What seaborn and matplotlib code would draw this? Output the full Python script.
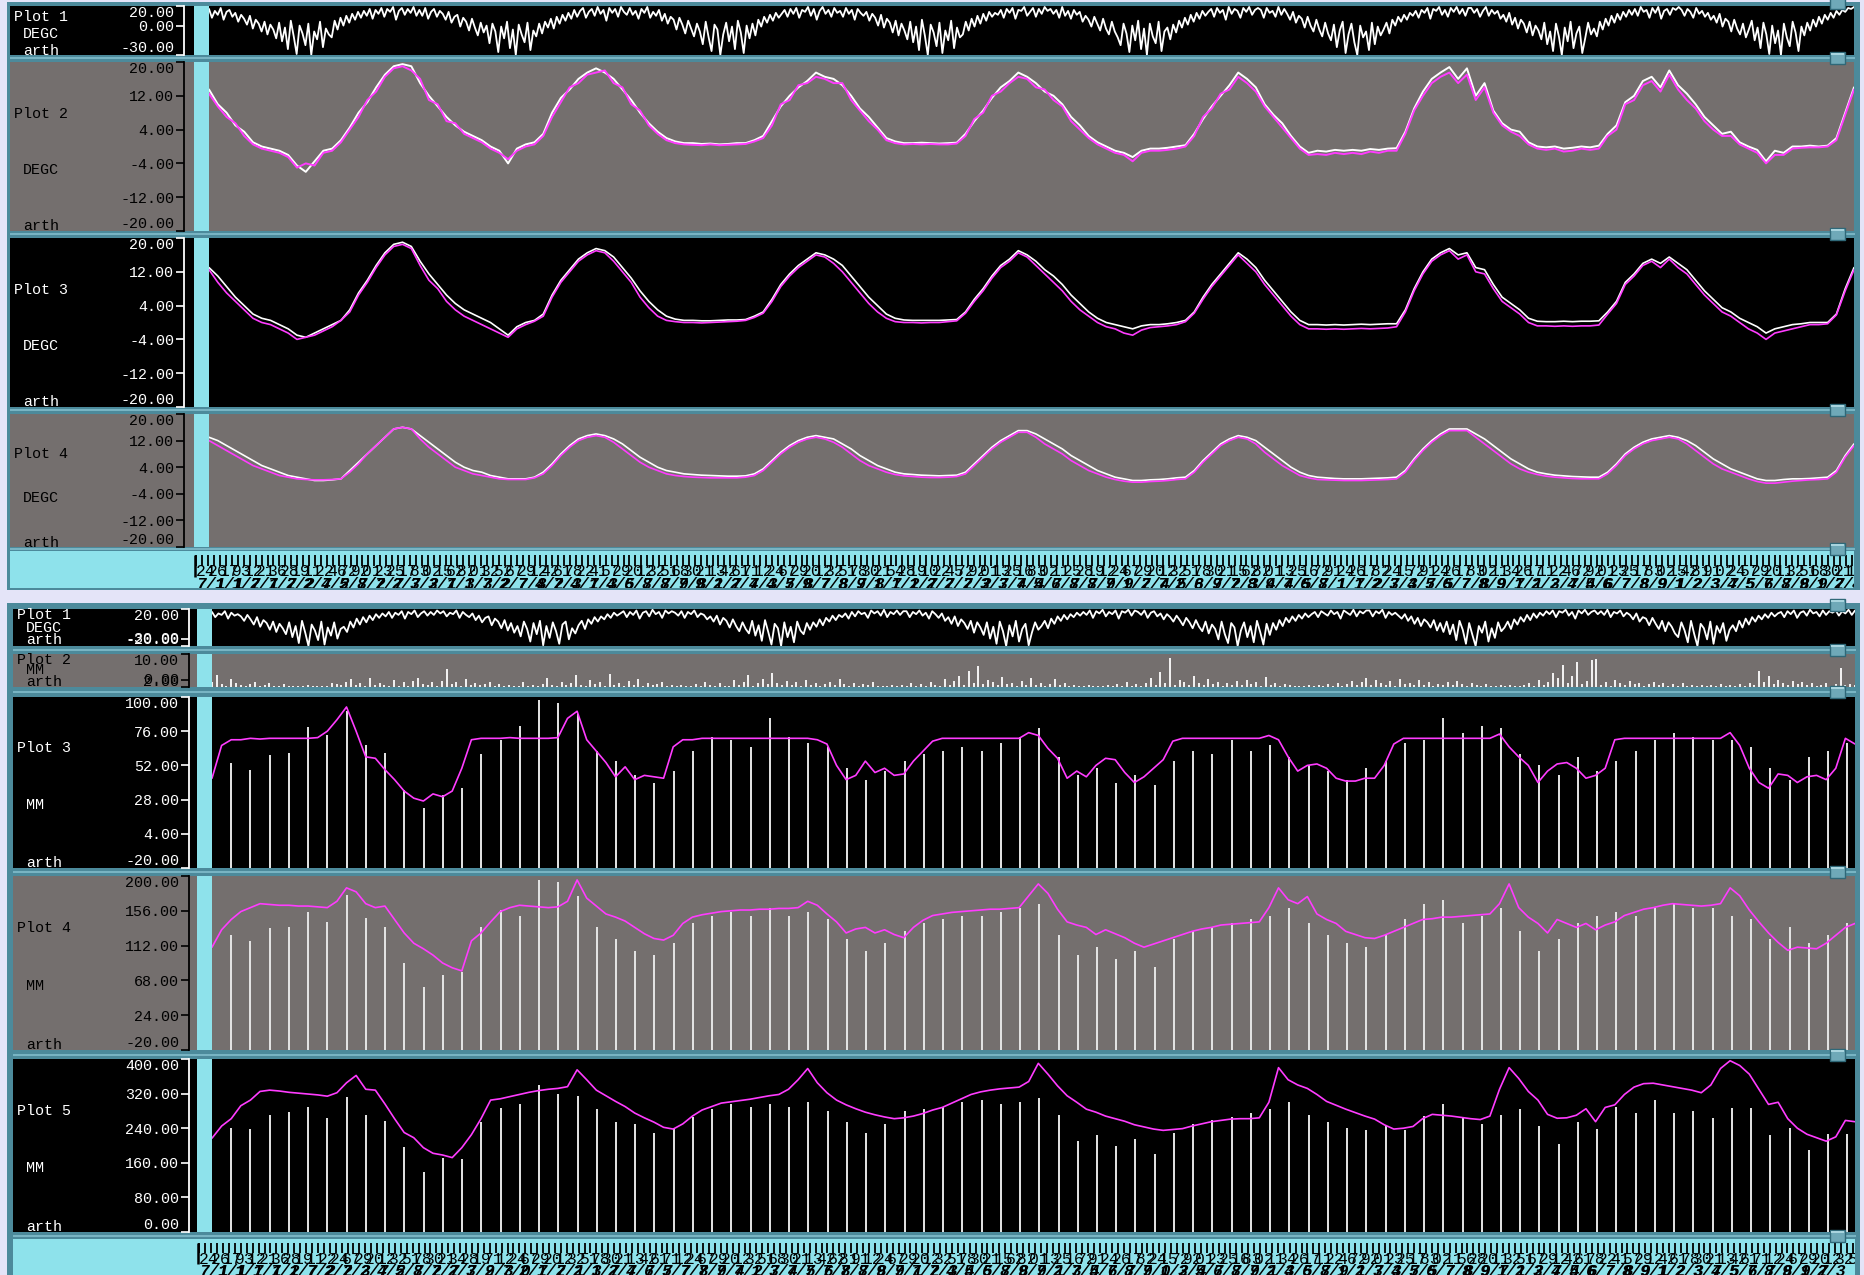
import numpy as np
import matplotlib
matplotlib.use("Agg")
import matplotlib.pyplot as plt
from matplotlib.patches import Rectangle
import seaborn as sns

# ---------------------------------------------------------------- data
# upper station: soil temperatures on a half-month grid, air temperature on a 5-day grid
top_months = 93.8
top_air = [
    17, 8, 15, 11, 18, 6, 14, 16, 9,
    13, 4, 11, 7, 1, 10, -3, 6, 2, -6, 4, -9, 1, -4, -13,
    3, -16, -2, -24, 5, -11, -29, 0, -8, -20, 2, -30, -6, -14, 4, -22, -3, -9,
    -12, 5, -4, 8, 0, 10, 3, 12, 6, 14, 8, 15, 10, 17,
    7, 16, 12, 18, 9, 17, 14, 19, 6, 15, 18, 11, 17, 13, 19, 10,
    16, 10, 18, 7, 14, 17, 9, 15, 12,
    6, 14, 3, 9, 11, -1, 8, 4, -5, 7, -2, -10, 3, -7, 0,
    -18, 2, -6, -27, -1, -13, 4, -23, -4, -30, 1, -9, -17, 3, -25, -5, -11, 2,
    -8, 4, -2, 7, -3, 9, 2, 11, 5, 13, 7, 16, 9, 15,
    18, 8, 14, 17, 10, 19, 12, 16, 5, 18, 13, 17, 9, 19, 14, 11,
    18, 11, 15, 7, 17, 13, 19, 8, 14,
    10, 16, 5, 12, 2, 9, 6, -4, 8, 1, -8, 5, -3, -11, 2,
    -6, -19, 4, -12, -26, 1, -4, -30, -9, 3, -16, -1, -24, 5, -7, -28, 0, -13,
    2, -10, 6, -1, 9, 3, 11, 5, 13, 8, 12, 16, 9, 17,
    12, 18, 8, 16, 14, 19, 10, 17, 6, 15, 19, 12, 16, 9, 18, 13,
    15, 9, 18, 12, 16, 6, 17, 13, 10,
    14, 5, 12, 8, 0, 11, -2, 7, 3, -7, 5, -10, 2, -5, -14,
    4, -17, -1, -25, 6, -10, -30, 1, -7, -21, 3, -28, -5, -15, 5, -23, -2, -12,
    -9, 4, -5, 7, -1, 10, 2, 12, 5, 14, 9, 13, 11, 16,
    8, 17, 13, 18, 7, 16, 15, 19, 10, 14, 18, 9, 17, 12, 19, 15,
    17, 12, 16, 8, 19, 10, 15, 7, 16,
    11, 14, 4, 10, 6, -1, 9, 2, -5, 7, -3, -9, 4, -6, -12,
    -20, 2, -8, -27, 0, -15, 5, -24, -3, -30, 2, -11, -18, 4, -26, -6, -2, -14,
    1, -7, 5, -2, 8, 1, 11, 4, 13, 7, 15, 10, 14, 17,
    9, 18, 13, 16, 6, 19, 12, 17, 15, 8, 18, 14, 19, 11, 16, 18,
    16, 8, 18, 13, 15, 9, 19, 11, 17,
    12, 6, 14, 3, 10, 7, -2, 9, 0, -6, 6, -4, -11, 3, -8,
    -15, 1, -22, -5, 4, -28, -9, 2, -17, -30, 0, -12, -6, -25, 3, -19, -1, -10,
    -4, 3, -8, 6, 0, 9, 4, 11, 6, 13, 10, 15, 8, 16,
    13, 18, 7, 17, 15, 19, 11, 16, 9, 18, 14, 19, 12, 17, 10, 18,
    18, 13, 17, 9, 15, 19, 10, 16, 12,
    15, 7, 11, 4, 13, 1, 8, -3, 6, 2, -7, 4, -10, 0, -5,
    -14, 3, -19, -6, -26, 2, -11, -30, -2, -16, 4, -23, -8, -1, -28, -13, 3, -9,
    -3, -11, 4, -4, 7, 0, 10, 3, 12, 6, 14, 9, 16, 11,
    17, 10, 19, 14, 16, 8, 18, 13, 19, 7, 15, 17, 11, 18, 16, 19,
    16, 10, 17, 14, 8, 18, 12, 15, 9,
    13, 6, 10, 3, 12, -1, 7, 4, -6, 6, -3, -9, 2, -12, -4,
    5, -15, -2, -23, 3, -9, -29, 0, -18, -5, -30, 2, -12, -21, 4, -7, -26, -1,
    -10, 3, -5, 6, -1, 9, 2, 11, 6, 13, 8, 15, 11, 16,
    14, 18, 17, 19,
]
top_soil1_a = [
    13.5, 10, 8, 5, 3.5, 1, 0, -0.5, -1, -2, -4.5, -6, -3.5, -1, -0.5, 1.5, 4.5, 8, 10.5, 14, 17, 19, 19.5, 19, 15, 12, 9.5, 7, 5, 3.5,
    2.5, 1.5, 0, -1, -4, -0.5, 0.5, 1, 3, 8, 11.5, 13.5, 16, 17.5, 18.5, 17.5, 16, 13.5, 11, 8, 5.5, 3.5, 2, 1.2, 0.8, 0.8, 0.6, 0.7, 0.5, 0.6,
    0.8, 0.8, 1.5, 2.5, 6, 9.5, 12, 14, 15.5, 17.5, 16.5, 16, 14.5, 12, 9, 7, 4.5, 2, 1.2, 0.8, 0.8, 0.9, 0.8, 0.7, 0.8, 0.9, 3, 6, 8.5, 11.5,
    14, 15.5, 17.5, 16.5, 15, 13, 12, 10, 7, 5, 2.5, 1, 0, -1, -1.5, -2.5, -1, -0.5, -0.5, -0.3, 0, 0.3, 3, 6.5, 9.5, 12, 14.5, 17.5, 16, 14,
    10, 7.5, 5.5, 2.5, 0, -1.5, -1, -1.2, -0.8, -1, -0.8, -1, -0.6, -0.8, -0.5, -0.4, 3.5, 9, 13, 16, 17.5, 18.8, 16, 18.5, 12, 15, 8.5, 5.5, 4, 3.5,
    1, 0, -0.2, 0, -0.5, -0.3, 0, -0.2, 0.2, 3, 5, 10.5, 12, 15.5, 16.5, 14, 18, 14.5, 12.5, 10, 7, 5, 3, 3.5, 1, 0, -0.8, -3.5, -1, -1.5,
    0, 0, 0.2, 0, 0.2, 2, 8, 14,
]
top_soil1_b = [
    12.5, 9.5, 7, 5.5, 2.5, 0.5, -0.5, -1, -1.5, -2.5, -5, -4, -4.5, -1.5, -1, 1, 4, 7, 11, 13, 16.5, 18.5, 19, 18, 16, 11, 10, 6, 5.5, 3,
    2, 1, -0.5, -1.5, -3, -1, 0, 0.5, 2.5, 7, 10.5, 14, 15, 17, 17.5, 18, 15, 14, 10, 8.5, 5, 3, 1.5, 0.8, 0.5, 0.4, 0.3, 0.5, 0.3, 0.4,
    0.5, 0.6, 1.2, 2, 5, 10, 11, 14.5, 15, 16.5, 16, 15, 15, 11, 8.5, 6, 4, 1.5, 0.8, 0.5, 0.6, 0.5, 0.6, 0.5, 0.5, 0.7, 2.5, 6.5, 8, 12,
    13, 15, 16.5, 16, 14, 13.5, 11, 9.5, 6, 4, 2, 0.5, -0.5, -1.5, -2, -3.5, -1.5, -1, -1, -0.8, -0.5, 0, 2.5, 7, 9, 12.5, 13.5, 16.5, 15, 13,
    9.5, 7, 4.5, 2, -0.5, -2, -1.8, -2, -1.5, -1.8, -1.5, -1.8, -1.2, -1.5, -1, -1, 3, 8.5, 12, 15, 16.5, 17.5, 15, 17, 11, 14, 8, 5, 3.5, 2.5,
    0.5, -0.5, -0.8, -0.5, -1.2, -1, -0.5, -0.8, -0.5, 2.5, 4, 10, 11, 14.5, 15.5, 13, 17, 13.5, 11, 9, 6, 4, 2.5, 2.5, 0.5, -0.5, -1.5, -4, -2, -2,
    -0.5, -0.3, -0.2, -0.2, 0, 1.5, 7.5, 13.5,
]
top_soil2_a = [
    13, 11, 8.5, 6, 4, 2, 1, 0.5, -0.5, -1.5, -3, -3.5, -2.5, -1.5, -0.5, 0.5, 3, 7, 10, 13.5, 16.5, 18.5, 19, 18, 14.5, 11.5, 9, 6.5, 4.5, 3,
    2, 1, 0, -1.5, -3, -1, 0, 0.5, 2, 6.5, 10, 12.5, 15, 16.5, 17.5, 17, 15.5, 13, 10.5, 7.5, 5, 3, 1.5, 0.8, 0.5, 0.5, 0.4, 0.4, 0.5, 0.6,
    0.6, 0.7, 1.5, 2.5, 5.5, 9, 11.5, 13.5, 15, 16.5, 16, 15, 13.5, 11, 8.5, 6, 4, 2, 1, 0.6, 0.5, 0.5, 0.5, 0.5, 0.6, 0.7, 2.5, 5.5, 8, 11,
    13.5, 15, 17, 16, 14.5, 12.5, 11, 9, 6.5, 4.5, 2.5, 1, 0, -0.5, -1, -1.5, -0.8, -0.5, -0.5, -0.3, 0, 0.5, 2.5, 6, 9, 11.5, 14, 16.5, 15, 13,
    10, 7.5, 5, 2.5, 0.5, -0.5, -0.5, -0.6, -0.5, -0.6, -0.5, -0.4, -0.5, -0.4, -0.3, -0.3, 3, 8, 12, 15, 16.5, 17.5, 16, 16.5, 13, 12.5, 9, 6, 4.5, 3,
    1, 0.3, 0.2, 0.2, 0.3, 0.2, 0.3, 0.3, 0.4, 2.5, 5, 9.5, 11.5, 14, 15, 14, 15.5, 14, 12.5, 10, 7.5, 5.5, 3.5, 2.5, 1, 0, -1, -2.5, -1.5, -1,
    -0.5, -0.3, 0, 0, 0, 2, 8, 13,
]
top_soil2_b = [
    12.5, 9.5, 7, 5, 3, 1, 0, -0.5, -1.5, -2.5, -4, -3.5, -3, -2, -1, 0.5, 2.5, 6.5, 9.5, 13, 16, 18, 18.5, 17.5, 13.5, 10, 8, 5, 3, 1.5,
    0.5, -0.5, -1.5, -2.5, -3.5, -1.5, -0.5, 0.3, 1.5, 6, 9.5, 12, 14.5, 16, 17, 16.5, 14.5, 12, 9.5, 6, 3.5, 1.5, 0.5, 0.2, 0, 0, -0.1, 0, 0.1, 0.2,
    0.3, 0.5, 1.2, 2.2, 5, 8.5, 11, 13, 14.5, 16, 15.5, 14, 12, 9.5, 7, 4.5, 2.5, 1, 0.2, 0, 0, -0.1, 0, 0, 0.2, 0.4, 2.2, 5, 7.5, 10.5,
    13, 14.5, 16.5, 15.5, 13.5, 11.5, 9.5, 7.5, 5, 3, 1.5, 0, -1, -1.5, -2.5, -3, -1.8, -1.2, -1, -0.8, -0.5, 0.2, 2.2, 5.5, 8.5, 11, 13.5, 16, 14, 12,
    9, 6.5, 4, 1.5, -0.5, -1.5, -1.5, -1.6, -1.5, -1.6, -1.5, -1.4, -1.5, -1.4, -1.3, -1, 2.5, 7.5, 11.5, 14.5, 16, 17, 15, 16, 12, 11.5, 8, 5, 3.5, 2,
    0, -0.8, -0.8, -0.9, -0.8, -0.9, -0.8, -0.8, -0.6, 2, 4.5, 9, 11, 13.5, 14.5, 13, 15, 13, 11.5, 9, 6.5, 4.5, 2.5, 1.5, 0, -1.5, -2.5, -4, -2.5, -2,
    -1.5, -1, -0.5, -0.5, -0.3, 1.8, 7.5, 12.5,
]
top_soil3_a = [
    13, 12, 10.5, 9, 7.5, 6, 4.5, 3.5, 2.5, 1.5, 1, 0.5, 0, 0, 0.2, 0.5, 3, 5.5, 8, 10.5, 13, 15.5, 16, 15.5, 13.5, 11.5, 9.5, 7.5, 5.5, 4,
    3, 2.5, 1.5, 1, 0.5, 0.5, 0.5, 1, 2.5, 5, 8, 10.5, 12.5, 13.5, 14, 13.5, 12.5, 11, 9, 7, 5.5, 4, 3, 2.5, 2, 1.8, 1.6, 1.5, 1.4, 1.3,
    1.3, 1.4, 2, 3.5, 6, 8.5, 10.5, 12, 13, 13.5, 13, 12.5, 11, 9.5, 7.5, 6, 4.5, 3.5, 2.5, 2, 1.8, 1.6, 1.5, 1.4, 1.5, 1.6, 2.5, 5, 7.5, 10,
    12, 13.5, 15, 15, 14, 12.5, 11, 9.5, 7.5, 6, 4.5, 3, 2, 1, 0.5, 0, 0, 0.2, 0.3, 0.5, 0.8, 1, 3, 6, 8.5, 11, 12.5, 13.5, 13, 12,
    10, 8, 6, 4, 2.5, 1.5, 1, 0.8, 0.6, 0.5, 0.5, 0.5, 0.6, 0.7, 0.8, 1, 3, 6.5, 9.5, 12, 14, 15.5, 15.5, 15.5, 14, 12.5, 10.5, 8.5, 6.5, 5,
    3.5, 2.5, 2, 1.6, 1.4, 1.2, 1.1, 1, 1, 2.5, 5, 8, 10, 11.5, 12.5, 13, 13.5, 13, 12, 10.5, 8.5, 6.5, 5, 3.5, 2.5, 1.5, 0.5, 0, 0, 0.3,
    0.5, 0.5, 0.6, 0.8, 1, 3, 7.5, 11,
]
top_soil3_b = [
    12, 10.5, 9, 7.5, 6, 4.5, 3.5, 2.5, 1.5, 1, 0.5, 0.3, 0.2, 0.2, 0.3, 0.5, 2.5, 5, 8, 10.5, 13, 15.5, 16, 15.5, 12.5, 10, 8, 6, 4, 3,
    2, 1.5, 1, 0.5, 0.3, 0.3, 0.3, 0.8, 2, 4.5, 7.5, 10, 12, 13, 13.5, 13, 11.5, 9.5, 7.5, 5.5, 4, 3, 2, 1.5, 1.2, 1, 0.9, 0.8, 0.8, 0.8,
    0.8, 1, 1.5, 3, 5.5, 8, 10, 11.5, 12.5, 13, 12.5, 11.5, 10, 8, 6, 4.5, 3.5, 2.5, 1.8, 1.4, 1.2, 1, 0.9, 0.9, 1, 1.2, 2, 4.5, 7, 9.5,
    11.5, 13, 14.5, 14.5, 13, 11, 9.5, 8, 6, 4.5, 3, 2, 1, 0.3, -0.2, -0.5, -0.5, -0.3, -0.2, 0, 0.3, 0.5, 2.5, 5.5, 8, 10.5, 12, 13, 12.5, 11,
    8.5, 6.5, 4.5, 3, 1.5, 0.8, 0.3, 0.2, 0.1, 0, 0, 0, 0.1, 0.2, 0.3, 0.5, 2.5, 6, 9, 11.5, 13.5, 15, 15, 15, 13, 11, 9, 7, 5, 3.5,
    2.5, 1.8, 1.3, 1, 0.8, 0.6, 0.5, 0.5, 0.5, 2, 4.5, 7.5, 9.5, 11, 12, 12.5, 13, 12.5, 11, 9, 7, 5, 3.5, 2.5, 1.5, 0.5, -0.3, -0.8, -0.8, -0.5,
    -0.2, 0, 0.2, 0.3, 0.5, 2.5, 7, 10.5,
]

# lower station: storage on a half-month grid, monthly totals, 5-day air temperature, quarter-month rain
bot_months = 85.4
bot_air = [
    16, 9, 14, 12, 17, 7, 15, 11, 13,
    10, 4, 12, 6, -1, 9, -4, 5, 1, -8, 3, -11, 0, -6, -14,
    2, -18, -3, -26, 4, -12, -30, -1, -9, -22, 3, -28, -5, -16, 2, -20, -7, -4,
    -11, 3, -5, 7, -1, 9, 2, 11, 5, 13, 8, 14, 10, 16,
    8, 15, 12, 17, 7, 16, 13, 18, 9, 14, 17, 11, 16, 12, 18, 14,
    17, 10, 15, 13, 18, 8, 16, 12, 9,
    14, 5, 11, 2, 8, 10, -2, 7, 3, -6, 5, -9, 1, -12, -3,
    -17, 3, -7, -24, 1, -14, 4, -29, -3, -19, 2, -10, -27, -1, 3, -21, -6, -13,
    -2, 4, -7, 6, 0, 9, 3, 10, 6, 13, 8, 15, 11, 14,
    17, 9, 16, 12, 18, 7, 15, 17, 10, 19, 13, 16, 8, 18, 14, 17,
    15, 11, 17, 8, 16, 13, 18, 9, 14,
    12, 6, 10, 3, 11, -1, 8, 4, -5, 6, -3, -10, 2, -7, -13,
    4, -16, -2, -23, 5, -11, -28, 0, -6, -30, 2, -18, -4, -25, 3, -9, -14, 1,
    -8, 2, -4, 6, -2, 8, 3, 11, 5, 12, 9, 14, 7, 16,
    10, 17, 13, 15, 8, 18, 14, 17, 11, 19, 9, 16, 13, 18, 12, 17,
    17, 9, 16, 13, 18, 11, 15, 7, 17,
    13, 8, 14, 4, 9, 0, 10, -3, 6, 1, -7, 4, -12, 2, -5,
    -15, 2, -20, -4, -27, 3, -10, -30, -2, -17, 4, -24, -7, 0, -29, -12, 2, -8,
    -3, 4, -6, 7, 0, 10, 4, 12, 6, 13, 9, 15, 11, 16,
    12, 18, 8, 17, 14, 19, 10, 16, 13, 18, 7, 17, 15, 19, 11, 18,
    16, 12, 18, 8, 15, 17, 10, 14, 6,
    13, 9, 3, 11, 5, -2, 8, 2, -6, 5, -4, -10, 3, -13, -1,
    -7, -21, 3, -14, -26, 1, -5, -30, -9, 2, -18, -3, -25, 4, -11, -28, 0, -15,
    1, -8, 5, -3, 8, 2, 10, 4, 12, 7, 14, 9, 13, 16,
    9, 17, 14, 11, 18, 13, 16, 7, 18, 15, 12, 19, 10, 17, 14, 18,
    18, 10, 17, 14, 19, 8, 16, 12, 15,
    11, 7, 13, 4, 10, 0, 8, -3, 6, 2, -5, 5, -9, 1, -11,
    3, -14, -1, -22, 4, -8, -27, 1, -15, -30, -3, -12, 3, -24, -6, -19, 2, -10,
    -5, 3, -7, 6, -1, 9, 3, 12, 5, 14, 8, 15, 11, 17,
    13, 18, 9, 17, 15, 19, 11, 16, 7, 18, 14, 19, 12, 16, 18, 13,
    17, 12, 19, 9, 16, 14, 18, 10, 15,
    12, 6, 14, 3, 9, 7, -2, 8, 0, -7, 4, -10, 2, -4, -13,
    -18, 2, -9, -25, 4, -14, -30, 0, -6, -21, 3, -27, -3, -12, 1, -23, -8, -2,
    -10, 4, -5, 7, -1, 9, 3, 11, 6, 13, 8, 15, 10, 14,
    16, 9, 17, 13, 18, 8, 15, 17, 11, 19, 14, 16, 10, 18, 12, 17,
    15, 18, 11, 17, 14, 19, 12, 18,
]
bot_rain = [
    1.5, 3.5, 0.8, 0.2, 2.5, 1.2, 0.5, 0.3, 0.8, 1.5, 0.4, 0.6, 1.2, 0.3, 0.2, 0.8, 0.4, 0.3, 0.2, 0.3, 0.5, 0.2, 0.3, 0.2, 0.4, 1.2, 0.8, 0.5, 1.5, 2.5, 0.6, 1.2, 0.3, 2.8, 0.5, 1.1, 0.6, 0.2, 2.2, 0.4, 1.5, 0.3, 1.8,
    2.8, 0.9, 0.6, 1.4, 0.3, 1.8, 5.5, 0.8, 1.5, 0.4, 2.5, 0.7, 1.2, 0.5, 0.9, 1.6, 0.4, 0.8, 0.3, 0.6, 0.2, 0.4, 1.5, 0.3, 0.5, 0.2, 0.8, 2.8, 0.6, 0.3, 1.6, 0.5, 1.2, 3.5, 0.7, 0.4, 2.2, 0.9, 1.4, 0.3, 3.8, 0.6, 1.1,
    0.4, 1.8, 0.6, 2.4, 0.3, 1.1, 0.5, 0.8, 1.4, 0.3, 0.6, 0.2, 0.5, 0.3, 0.2, 0.8, 0.4, 1.6, 0.5, 0.3, 1.2, 0.2, 0.4, 2.2, 0.6, 1.5, 3.5, 0.4, 1.3, 2.5, 0.8, 4.2, 1.1, 0.5, 1.9, 0.6, 1.4, 0.3, 2.1, 0.7, 1.2, 0.4, 0.9,
    1.6, 0.5, 2.3, 0.8, 0.4, 1.2, 0.3, 0.9, 0.5, 1.5, 0.2, 0.4, 0.3, 0.5, 0.2, 0.6, 0.3, 1.1, 0.4, 0.8, 0.3, 1.4, 0.6, 0.3, 2.4, 0.5, 1.8, 3.2, 0.7, 4.8, 1.2, 6.5, 0.9, 2.1, 1.5, 0.6, 3.1, 0.8, 1.3, 0.4, 1.7, 0.5, 2.6,
    0.6, 1.3, 0.4, 0.9, 2.4, 0.5, 1.1, 0.3, 0.7, 0.4, 0.2, 0.5, 0.3, 0.2, 0.4, 0.6, 0.3, 0.8, 0.2, 1.5, 0.4, 0.9, 0.3, 1.3, 2.8, 0.6, 4.5, 1.2, 8.8, 0.7, 2.2, 1.6, 0.5, 3.4, 1.1, 0.6, 2.5, 0.8, 1.6, 0.4, 1.2, 0.6, 1.9,
    0.5, 2.2, 0.8, 1.4, 0.4, 3.1, 0.6, 1.2, 0.3, 0.8, 0.5, 0.2, 0.4, 0.3, 0.6, 0.2, 0.5, 0.3, 0.8, 0.4, 1.2, 0.3, 0.9, 1.8, 0.5, 1.5, 2.6, 0.7, 2.0, 1.1, 0.6, 1.7, 0.4, 2.3, 0.9, 1.3, 0.5, 2.0, 0.7, 1.5, 0.3, 1.0, 0.6,
    1.4, 0.5, 1.9, 0.8, 0.4, 1.1, 0.6, 0.3, 0.8, 0.4, 0.2, 0.5, 0.3, 0.7, 0.2, 0.4, 0.6, 1.1, 0.3, 2.2, 0.5, 1.4, 4.2, 2.6, 6.8, 1.2, 3.4, 7.5, 0.8, 1.9, 8.2, 8.6, 0.6, 1.5, 0.4, 2.1, 1.2, 0.5, 1.7, 0.9, 1.3, 0.4, 0.8,
    1.6, 0.5, 1.1, 0.3, 0.8, 0.4, 1.2, 0.3, 0.6, 0.2, 0.5, 0.3, 0.7, 0.4, 0.9, 0.2, 0.6, 0.3, 0.8, 0.4, 1.3, 0.5, 4.8, 1.5, 3.2, 0.8, 2.1, 1.2, 0.6, 1.8, 0.9, 1.4, 0.5, 1.1, 0.3, 0.7, 1.2, 0.4, 0.8, 5.8, 0.6, 1.0, 0.5,
]
bot_store3 = [
    43, 66, 70, 70, 71, 70.5, 71, 71, 71, 71, 71, 71.5, 76, 84, 93, 76, 58, 57, 49, 42, 34, 29, 27, 32, 30, 34, 50, 70, 71, 71,
    71, 71.5, 71, 71, 71, 71, 71.5, 85, 90, 70, 62, 54, 44, 51, 42, 45, 44, 43, 65, 70, 70, 71, 71, 71, 71, 71, 71, 71, 71, 71,
    71, 71, 71, 70, 67, 52, 42, 45, 55, 47, 50, 45, 46, 55, 62, 69, 71, 71, 71, 71, 71, 71, 71, 71, 71, 75, 73, 64, 57, 43,
    48, 44, 52, 57, 56, 47, 40, 44, 50, 56, 69, 71, 71, 71, 71, 71, 71, 71, 71, 71, 73, 70, 58, 48, 52, 53, 50, 43, 41, 41,
    43, 43, 52, 67, 71, 71, 71, 71, 71, 71, 71, 71, 71, 71, 74, 65, 58, 52, 40, 48, 53, 54, 50, 43, 45, 50, 70, 71, 71, 71,
    71, 71, 71, 71, 71, 71, 71, 71, 75, 66, 50, 40, 36, 46, 45, 40, 44, 45, 42, 50, 71, 67,
]
bot_store4 = [
    110, 132, 145, 155, 160, 165, 164, 163, 163, 162, 162, 161, 160, 168, 185, 180, 165, 160, 162, 145, 128, 115, 108, 100, 90, 84, 80, 118, 128, 142,
    155, 160, 163, 162, 161, 160, 161, 168, 195, 172, 162, 152, 148, 143, 135, 127, 121, 119, 125, 140, 148, 151, 153, 155, 156, 157, 157, 158, 158, 159,
    159, 160, 168, 163, 152, 142, 128, 133, 135, 128, 132, 126, 122, 135, 144, 150, 152, 154, 155, 156, 157, 158, 158, 159, 160, 175, 190, 178, 158, 142,
    138, 135, 126, 132, 127, 122, 115, 110, 114, 118, 122, 126, 130, 133, 135, 138, 139, 140, 141, 142, 160, 185, 170, 165, 174, 152, 145, 140, 130, 126,
    122, 121, 125, 130, 135, 140, 145, 146, 148, 148, 149, 150, 151, 152, 165, 190, 160, 148, 140, 128, 145, 140, 135, 140, 132, 138, 142, 150, 154, 158,
    160, 163, 165, 164, 163, 162, 163, 165, 185, 175, 157, 142, 128, 116, 106, 110, 109, 108, 115, 125, 135, 140,
]
bot_store5 = [
    217, 245, 262, 292, 305, 325, 328, 326, 323, 321, 319, 317, 314, 322, 345, 362, 330, 328, 296, 262, 230, 218, 195, 182, 178, 172, 195, 225, 262, 305,
    308, 313, 318, 323, 327, 330, 332, 336, 375, 352, 328, 315, 302, 290, 275, 264, 254, 242, 238, 250, 268, 282, 290, 298, 301, 304, 307, 311, 315, 318,
    330, 352, 378, 345, 322, 305, 294, 285, 277, 271, 266, 262, 264, 268, 274, 282, 288, 298, 308, 318, 324, 328, 331, 333, 335, 348, 390, 365, 338, 315,
    300, 284, 277, 268, 262, 256, 248, 243, 238, 235, 237, 239, 245, 250, 255, 258, 261, 262, 262, 264, 300, 380, 352, 340, 332, 318, 302, 293, 284, 276,
    268, 261, 248, 238, 240, 244, 262, 272, 270, 268, 265, 262, 260, 268, 330, 380, 355, 325, 305, 272, 263, 264, 270, 285, 255, 288, 294, 318, 335, 343,
    344, 340, 336, 332, 328, 322, 340, 378, 396, 385, 365, 330, 295, 300, 262, 240, 226, 218, 210, 220, 258, 255,
]
bot_month3 = [
    54, 49, 59, 61, 79, 73, 90, 66, 61, 35, 22, 31, 36, 60, 70, 80, 98, 96, 88, 62, 55, 45, 40, 48, 62, 72, 70, 65, 85, 72,
    68, 65, 50, 42, 48, 55, 60, 62, 65, 62, 68, 72, 78, 58, 45, 50, 40, 45, 38, 55, 62, 60, 70, 62, 66, 58, 52, 48, 42, 50,
    55, 68, 70, 85, 75, 80, 78, 60, 52, 45, 58, 48, 55, 62, 70, 75, 72, 70, 70, 65, 50, 42, 58, 62, 68,
]
bot_month4 = [
    125, 118, 134, 136, 155, 142, 176, 147, 136, 90, 60, 75, 78, 136, 157, 150, 195, 192, 175, 135, 120, 105, 100, 115, 140, 150, 155, 150, 160, 150,
    155, 145, 120, 105, 115, 130, 140, 145, 150, 150, 155, 160, 165, 125, 100, 110, 95, 105, 85, 120, 130, 135, 140, 145, 150, 160, 140, 125, 115, 110,
    125, 145, 165, 170, 140, 150, 160, 130, 105, 120, 140, 150, 155, 150, 160, 165, 160, 160, 150, 145, 120, 135, 115, 125, 140,
]
bot_month5 = [
    240, 237, 270, 278, 290, 263, 311, 270, 257, 197, 139, 170, 169, 254, 286, 295, 340, 320, 315, 285, 255, 250, 230, 240, 265, 285, 295, 290, 295, 290,
    300, 280, 255, 230, 250, 280, 285, 290, 300, 305, 295, 300, 310, 270, 210, 225, 200, 215, 180, 230, 250, 260, 265, 275, 285, 300, 270, 255, 240, 235,
    245, 236, 268, 295, 263, 249, 270, 284, 246, 203, 255, 238, 288, 276, 306, 276, 279, 263, 287, 287, 224, 240, 189, 227, 227,
]

# date strip labels
top_day_text = ("2426179312213628191122467292012325178302"
                "1562820132526729124261782241572920123251"
                "6830211342617112246729201232517830215428"
                "1910224572920113251683021125281912246729"
                "2012325178302115628201132516729124261782"
                "2415729124261783021134261711224672920123"
                "2517830215428191022457292011325168302112"
                "5281912246729201232517830211562820113251")
top_mon_text = ("7/1 1/1 1/7 2/1 7/7 2/2 2/7 4/2 5/7 8/2 7/7 2/7 3/2 3/1 7/3 1/3 7/2 2/7 7/8 4/2 "
                "7/3 4/1 7/3 4/5 6/7 8/7 8/9 7/8 9/1 2/7 2/4 7/3 4/5 7/8 9/7 7/8 8/7 9/8 1/7 1/2 "
                "1/7 2/7 2/2 7/2 3/7 3/4 7/4 5/7 6/7 8/7 8/9 7/9 1/2 7/4 7/5 2/6 8/7 9/2 7/3 8/4 "
                "9/4 7/5 6/7 8/1 1/7 1/2 2/7 3/3 4/7 5/5 6/7 7/8 8/9 9/7 1/1 2/2 3/7 4/4 5/6 6/7 "
                "7/8 8/9 9/1 1/2 2/3 3/7 4/5 5/6 7/7 8/8 9/9 1/7 2/3 4/5 6/7 8/9")
bot_day_text = ("2426179312213628191122246729201232517830"
                "2134281971122467292012325178302113426171"
                "1224672920123251683021134262819112246729"
                "2012325178302115628201132516729124261782"
                "2415729201232516830211342617112246729201"
                "2325178302115628201132516729124261782241"
                "5729124261783021134261711224672920123251"
                "7830215428191022457292011325168302112528")
bot_mon_text = ("7/1 1/1 1/7 1/1 7/2 1/7 7/2 2/2 7/3 2/7 4/2 5/7 8/2 7/7 2/7 3/2 9/3 7/0 2/7 1/2 "
                "7/1 2/3 1/7 2/7 4/7 6/7 5/7 7/8 7/9 7/4 7/2 1/7 3/4 7/5 7/6 7/8 7/7 8/8 9/9 7/1 "
                "7/2 7/3 4/4 5/5 6/7 8/8 9/9 7/1 2/3 7/4 5/6 7/7 8/9 7/0 1/2 3/4 5/7 6/7 8/9 7/1 "
                "2/3 4/5 6/7 8/9 1/1 2/7 3/3 4/7 5/5 6/7 7/8 8/9 9/7 1/1 2/2 3/7 4/4 5/6 6/7 7/8 "
                "8/9 9/1 1/2 2/3 3/7 4/5 5/6 7/7 8/8 9/9 1/7 2/3")

# ---------------------------------------------------------------- style
LAVENDER = "#e4e4f8"
FRAME = "#4c8a9b"
FRAME_HI = "#78b4c3"
CYAN = "#8ee2eb"
BLACK = "#000000"
GRAY = "#746f6e"
MAGENTA = "#ff3cff"
WHITE = "#ffffff"
BAR = "#e6e6e6"
FS = 10.8
W, H = 1864, 1275

sns.set_theme(style="white")
plt.rcParams["font.family"] = ["Liberation Mono", "DejaVu Sans Mono"]

fig = plt.figure(figsize=(W / 100, H / 100), dpi=100)
fig.patch.set_facecolor(LAVENDER)


def box(x0, y0, x1, y1):
    return [x0 / W, 1 - y1 / H, (x1 - x0) / W, (y1 - y0) / H]


def rect(x0, y0, x1, y1, color, z=-5, ec="none", lw=0):
    fig.patches.append(Rectangle((x0 / W, 1 - y1 / H), (x1 - x0) / W, (y1 - y0) / H,
                                 transform=fig.transFigure, facecolor=color,
                                 edgecolor=ec, linewidth=lw, zorder=z))


def label(x, y, s, color):
    fig.text(x / W, 1 - y / H, s, color=color, fontsize=FS, ha="left", va="center")


def handle(y):
    rect(1830, y - 6, 1845, y + 6, "#6fa9b8", z=5, ec="#2f6878", lw=1.0)
    rect(1831, y - 5, 1844, y - 3, "#a8d4de", z=6)


def make_row(geo, y0, y1, bg, name, unit, lim, ticks, fr, xmax):
    lab_x0, cyan_x0, data_x0, data_x1, spine_x = geo
    fg = WHITE if bg == BLACK else BLACK
    rect(lab_x0, y0, cyan_x0, y1, bg)
    rect(cyan_x0, y0, data_x0, y1, CYAN)
    ax = fig.add_axes(box(data_x0, y0, data_x1, y1))
    ax.set_facecolor(bg)
    h = y1 - y0
    label(lab_x0 + 4, y0 + fr[0] * h, name, fg)
    label(lab_x0 + 13, y0 + fr[1] * h, unit, fg)
    label(lab_x0 + 13, y0 + fr[2] * h, "arth", fg)
    return ax, fg, (lim, ticks, xmax, data_x0 - spine_x)


def finish(ax, fg, spec):
    lim, ticks, xmax, outward = spec
    ax.set_xlim(0, xmax)
    ax.set_ylim(*lim)
    ax.set_xlabel("")
    ax.set_ylabel("")
    for s in ("top", "right", "bottom"):
        ax.spines[s].set_visible(False)
    sp = ax.spines["left"]
    sp.set_visible(True)
    sp.set_position(("outward", outward * 0.72))
    sp.set_color(fg)
    sp.set_linewidth(1.3)
    ax.set_xticks([])
    ax.set_yticks(ticks, labels=[f"{t:.2f}" for t in ticks])
    ax.tick_params(axis="y", left=True, direction="out", length=6, width=1.2,
                   color=fg, labelcolor=fg, labelsize=FS, pad=1)
    for lbl, t in zip(ax.get_yticklabels(), ticks):
        if t == lim[1]:
            lbl.set_va("top")
        elif t == lim[0]:
            lbl.set_va("bottom")


def line(ax, values, xmax, color, lw=1.1):
    x = np.linspace(0, xmax, len(values))
    sns.lineplot(x=x, y=np.asarray(values, float), ax=ax, color=color, linewidth=lw,
                 estimator=None, sort=False, legend=False)


def strip(x_frame, x_axis, x1, y0, y1, day_text, mon_text, n_ticks=280):
    rect(x_frame, y0, x1, y1, CYAN)
    ax = fig.add_axes(box(x_axis, y0, x1, y1))
    ax.set_axis_off()
    ax.set_xlim(-0.4, n_ticks - 0.6)
    ax.set_ylim(0, 1)
    pos = np.arange(n_ticks)
    ax.vlines(pos, 0.6, 0.89, color=BLACK, lw=1.3)
    ax.vlines(-0.25, 0.3, 0.89, color=BLACK, lw=1.8)
    days = [day_text[i:i + 2] for i in range(0, len(day_text), 2)]
    for k, d in enumerate(days[: n_ticks // 2]):
        ax.text(2 * k, 0.44, d, fontsize=FS + 1, color=BLACK, ha="left", va="center", clip_on=True)
    mons = mon_text.split()
    for k, m in enumerate(mons[: (n_ticks + 2) // 3]):
        ax.text(3 * k, 0.1, m, fontsize=FS + 1, color=BLACK, ha="left", va="center",
                style="italic", fontweight="bold", clip_on=True)


# ---------------------------------------------------------------- upper panel
rect(7, 2, 1860, 590, FRAME)
for ys in (58, 234, 410, 549):
    rect(10, ys - 1, 1855, ys + 1, FRAME_HI, z=-4)
    handle(ys)
handle(3)
geo_top = (10, 194, 209, 1854, 184)

ax, fg, spec = make_row(geo_top, 6, 55, BLACK, "Plot 1", "DEGC", (-30, 20), [20, 0, -30], (0.22, 0.57, 0.92), top_months)
line(ax, top_air, top_months, WHITE, 1.3)
finish(ax, fg, spec)

ax, fg, spec = make_row(geo_top, 62, 231, GRAY, "Plot 2", "DEGC", (-20, 20), [20, 12, 4, -4, -12, -20], (0.31, 0.64, 0.97), top_months)
line(ax, top_soil1_a, top_months, WHITE, 1.4)
line(ax, top_soil1_b, top_months, MAGENTA, 1.4)
finish(ax, fg, spec)

ax, fg, spec = make_row(geo_top, 238, 407, BLACK, "Plot 3", "DEGC", (-20, 20), [20, 12, 4, -4, -12, -20], (0.31, 0.64, 0.97), top_months)
line(ax, top_soil2_a, top_months, WHITE, 1.2)
line(ax, top_soil2_b, top_months, MAGENTA, 1.2)
finish(ax, fg, spec)

ax, fg, spec = make_row(geo_top, 414, 547, GRAY, "Plot 4", "DEGC", (-20, 20), [20, 12, 4, -4, -12, -20], (0.30, 0.63, 0.97), top_months)
line(ax, top_soil3_a, top_months, WHITE, 1.2)
line(ax, top_soil3_b, top_months, MAGENTA, 1.2)
finish(ax, fg, spec)

strip(10, 194, 1854, 551, 588, top_day_text, top_mon_text)

# ---------------------------------------------------------------- lower panel
rect(7, 603, 1860, 1275, FRAME)
for ys in (650, 692, 872, 1055, 1236):
    rect(13, ys - 1, 1856, ys + 1, FRAME_HI, z=-4)
    handle(ys)
handle(605)
geo_bot = (13, 197, 212, 1855, 189)

ax, fg, spec = make_row(geo_bot, 609, 646, BLACK, "Plot 1", "DEGC", (-30, 20), [20, -20, -30], (0.17, 0.52, 0.85), bot_months)
line(ax, bot_air, bot_months, WHITE, 1.3)
finish(ax, fg, spec)

ax, fg, spec = make_row(geo_bot, 654, 687, GRAY, "Plot 2", "MM", (0, 10), [10, 2, 0], (0.18, 0.48, 0.85), bot_months)
rain_x = np.linspace(0, bot_months, len(bot_rain))
ax.vlines(rain_x, 0, bot_rain, color=WHITE, lw=1.3)
finish(ax, fg, spec)

month_x = np.arange(1, 86)
for (y0, y1, bg, name, lim, ticks, store, totals) in (
        (697, 868, BLACK, "Plot 3", (-20, 100), [100, 76, 52, 28, 4, -20], bot_store3, bot_month3),
        (876, 1050, GRAY, "Plot 4", (-20, 200), [200, 156, 112, 68, 24, -20], bot_store4, bot_month4),
        (1059, 1232, BLACK, "Plot 5", (0, 400), [400, 320, 240, 160, 80, 0], bot_store5, bot_month5)):
    ax, fg, spec = make_row(geo_bot, y0, y1, bg, name, "MM", lim, ticks, (0.30, 0.63, 0.97), bot_months)
    ax.vlines(month_x[:len(totals)], lim[0], totals, color=BAR, lw=1.4)
    line(ax, store, bot_months, MAGENTA, 1.2)
    finish(ax, fg, spec)

strip(13, 197, 1855, 1239, 1275, bot_day_text, bot_mon_text)

fig.savefig("out.png", dpi=100, facecolor=LAVENDER)
